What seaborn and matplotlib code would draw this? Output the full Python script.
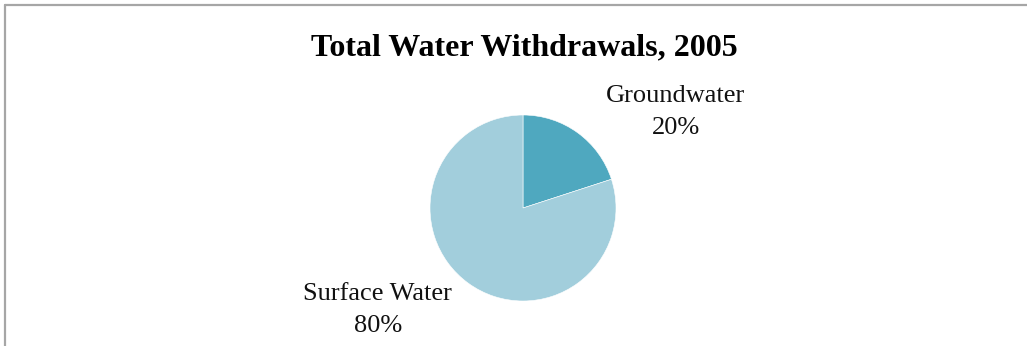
import matplotlib
matplotlib.use("Agg")
import matplotlib.pyplot as plt
import seaborn as sns
from matplotlib.lines import Line2D

categories = ["Groundwater", "Surface Water"]
values = [20, 80]
title = "Total Water Withdrawals, 2005"

sns.set_theme(style="white")
plt.rcParams['font.family'] = ['Liberation Serif', 'DejaVu Serif']

colors = ["#4FA8BF", "#A2CEDC"]

W, H = 1027, 346
fig = plt.figure(figsize=(W / 100, H / 100), dpi=100)
fig.patch.set_facecolor("white")

cx, cy, r = 523, 208, 93
ax = fig.add_axes([(cx - r) / W, 1 - (cy + r) / H, 2 * r / W, 2 * r / H])
wedges, _ = ax.pie(values, colors=colors, startangle=90, counterclock=False,
                   radius=1.0, wedgeprops=dict(edgecolor="white", linewidth=0.4))
ax.set_xlim(-1, 1)
ax.set_ylim(-1, 1)
ax.set_aspect("auto")
ax.axis("off")

total = sum(values)
label_pos = [(1.64, 1.03), (-1.56, -1.10)]
for cat, v, (lx, ly) in zip(categories, values, label_pos):
    ax.text(lx, ly, f"{cat}\n{round(100 * v / total)}%", ha="center", va="center",
            fontsize=19, color="#111111", linespacing=1.58, clip_on=False)

fig.text(524 / W, 1 - 48 / H, title, ha="center", va="center",
         fontsize=23, fontweight="bold", color="black")

# border (top and left visible)
fig.add_artist(Line2D([5 / W, 1], [1 - 5 / H, 1 - 5 / H], color="#A6A6A6", linewidth=1.6,
                      transform=fig.transFigure))
fig.add_artist(Line2D([5 / W, 5 / W], [0, 1 - 5 / H], color="#A6A6A6", linewidth=1.6,
                      transform=fig.transFigure))

fig.savefig("out.png", dpi=100, facecolor="white")
